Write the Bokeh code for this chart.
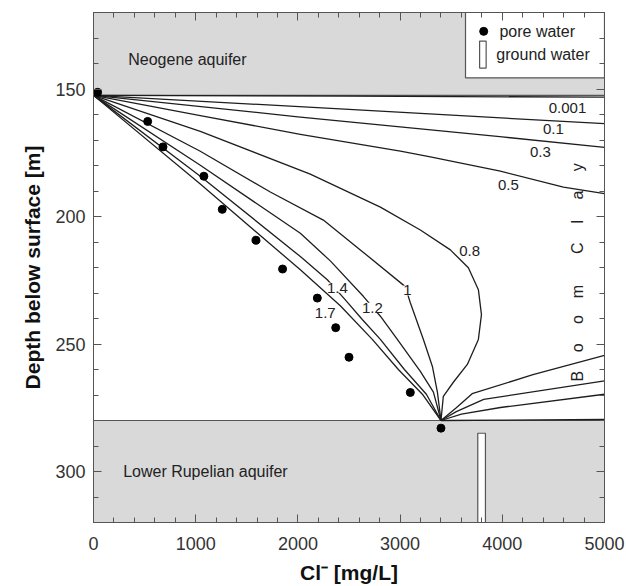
from bokeh.plotting import figure
from bokeh.models import Range1d, LinearAxis, SingleIntervalTicker
from bokeh.core.properties import value
from bokeh.embed import file_html
from bokeh.resources import INLINE

# ---------------- data ----------------
neogene_base = 152.5
rupelian_top = 280.0
depth_top, depth_bottom = 120, 320
cl_min, cl_max = 0, 5000

pore_cl = [40, 530, 680, 1080, 1260, 1590, 1850, 2190, 2370, 2500, 3100, 3400]
pore_depth = [151.3, 162.7, 172.7, 184.2, 197.2, 209.3, 220.6, 232.0, 243.6, 255.2, 269.0, 283.0]

ground_cl = [3760, 3835]
ground_depth = [285, 320]

# model curves (time labels); "top" branch from upper aquifer, "bot" branch from lower aquifer
c0001_top_cl = [0, 2500, 5000]
c0001_top_d = [152.5, 152.8, 153.2]
c0001_bot_cl = [3400, 5000]
c0001_bot_d = [280.0, 279.6]

c01_top_cl = [0, 2500, 5000]
c01_top_d = [152.5, 158.0, 163.6]
c01_bot_cl = [3400, 3600, 3982, 5000]
c01_bot_d = [280.0, 277.5, 274.9, 269.7]

c03_top_cl = [0, 2000, 4000, 5000]
c03_top_d = [152.5, 160.9, 168.8, 172.9]
c03_bot_cl = [3400, 3550, 3818, 5000]
c03_bot_d = [280.0, 276.5, 271.7, 264.5]

c05_top_cl = [0, 1045, 2024, 3003, 3296, 3981, 4598, 5000]
c05_top_d = [152.5, 160.4, 167.8, 174.4, 176.6, 182.2, 188.5, 191.0]
c05_bot_cl = [3400, 3550, 3705, 4300, 5000]
c05_bot_d = [280.0, 275.0, 269.5, 262.0, 254.5]

c08_cl = [0, 1045, 2121, 2807, 3198, 3492, 3668, 3766, 3796, 3766, 3658, 3521, 3423, 3400]
c08_d = [152.5, 166.6, 183.4, 196.3, 205.3, 213.1, 220.1, 228.7, 238.5, 248.2, 258.0, 265.0, 270.5, 280.0]

c10_cl = [0, 1045, 1730, 2249, 2611, 3051, 3100, 3228, 3316, 3365, 3400]
c10_d = [152.5, 174.4, 190.4, 201.4, 213.1, 227.5, 233.8, 248.2, 258.8, 268.9, 280.0]

c12_cl = [0, 1045, 2024, 2317, 2640, 2807, 2973, 3198, 3326, 3400]
c12_d = [152.5, 179.9, 206.6, 217.4, 231.3, 239.1, 248.2, 260.7, 268.9, 280.0]

c14_cl = [0, 1045, 2024, 2288, 2462, 2630, 2807, 3042, 3257, 3400]
c14_d = [152.5, 184.2, 215.7, 224.8, 232.6, 240.4, 248.2, 260.0, 269.7, 280.0]

c17_cl = [0, 1045, 2024, 2415, 2728, 2983, 3218, 3400]
c17_d = [152.5, 187.3, 220.9, 235.0, 248.2, 260.0, 269.7, 280.0]

curve_labels = ["0.001", "0.1", "0.3", "0.5", "0.8"]
curve_label_cl = [4638, 4500, 4373, 4060, 3680]
curve_label_d = [157.6, 165.8, 174.8, 187.7, 213.7]

gap_labels = ["1", "1.2", "1.4"]
gap_label_cl = [3071, 2728, 2386]
gap_label_d = [229.0, 235.8, 227.9]

side_labels = ["1.7"]
side_label_cl = [2268]
side_label_d = [237.7]

boom_letters = ["B", "o", "o", "m", "C", "l", "a", "y"]
boom_d = [262.6, 251.5, 240.4, 229.4, 212.4, 202.0, 191.6, 180.7]
boom_cl = 4733

# ---------------- figure ----------------
FONT = value("Liberation Sans")
FRAME = "#555555"
INK = "#1e1e1e"
GRAY = "#d9d9d9"

p = figure(width=626, height=586,
           x_range=Range1d(cl_min, cl_max), y_range=Range1d(depth_bottom, depth_top),
           output_backend="svg", toolbar_location=None,
           min_border_left=93, min_border_right=22, min_border_top=12, min_border_bottom=63)
p.xaxis.ticker = SingleIntervalTicker(interval=1000, num_minor_ticks=5)
p.yaxis.ticker = SingleIntervalTicker(interval=50, num_minor_ticks=5)
p.grid.visible = False
p.outline_line_color = FRAME
p.background_fill_color = "white"
p.border_fill_color = "white"

p.yaxis.axis_label = "Depth below surface [m]"
p.xaxis.axis_label = "Cl⁻ [mg/L]"

for ax in (p.xaxis[0], p.yaxis[0]):
    ax.axis_line_color = FRAME
    ax.major_tick_line_color = FRAME
    ax.minor_tick_line_color = FRAME
    ax.major_tick_in = 8
    ax.major_tick_out = 0
    ax.minor_tick_in = 5
    ax.minor_tick_out = 0
    ax.major_label_text_font = "Liberation Sans"
    ax.major_label_text_font_size = "18px"
    ax.major_label_text_color = "#333333"
    ax.axis_label_text_font = "Liberation Sans"
    ax.axis_label_text_font_style = "bold"
    ax.axis_label_text_font_size = "21px"
    ax.axis_label_text_color = "#111111"
p.yaxis.major_label_standoff = 8
p.xaxis.major_label_standoff = 14
p.yaxis.axis_label_standoff = 8
p.xaxis.axis_label_standoff = 8

for loc in ("above", "right"):
    ax = LinearAxis(ticker=SingleIntervalTicker(interval=1000 if loc == "above" else 50, num_minor_ticks=5))
    ax.axis_line_color = FRAME
    ax.major_tick_line_color = FRAME
    ax.minor_tick_line_color = FRAME
    ax.major_tick_in = 8
    ax.major_tick_out = 0
    ax.minor_tick_in = 5
    ax.minor_tick_out = 0
    ax.major_label_text_font_size = "1px"
    ax.major_label_text_color = None
    ax.major_label_standoff = 0
    p.add_layout(ax, loc)

# aquifers
p.quad(left=[cl_min], right=[cl_max], top=[depth_top], bottom=[neogene_base],
       fill_color=GRAY, line_color=None)
p.quad(left=[cl_min], right=[cl_max], top=[rupelian_top], bottom=[depth_bottom],
       fill_color=GRAY, line_color=None)
p.line([cl_min, cl_max], [neogene_base, neogene_base], line_color=FRAME, line_width=1.2)
p.line([cl_min, cl_max], [rupelian_top, rupelian_top], line_color=FRAME, line_width=1.2)

# curves
for xs, ys in [(c0001_top_cl, c0001_top_d), (c0001_bot_cl, c0001_bot_d),
               (c01_top_cl, c01_top_d), (c01_bot_cl, c01_bot_d),
               (c03_top_cl, c03_top_d), (c03_bot_cl, c03_bot_d),
               (c05_top_cl, c05_top_d), (c05_bot_cl, c05_bot_d),
               (c08_cl, c08_d), (c10_cl, c10_d), (c12_cl, c12_d),
               (c14_cl, c14_d), (c17_cl, c17_d)]:
    p.line(xs, ys, line_color=INK, line_width=1.3, line_join="round")

# pore water
p.scatter(pore_cl, pore_depth, size=8, marker="circle", fill_color="black", line_color="black")

# ground water
p.quad(left=[ground_cl[0]], right=[ground_cl[1]], top=[ground_depth[0]], bottom=[ground_depth[1]],
       fill_color="white", line_color=FRAME, line_width=1.2)

# region labels
p.text(x=[340], y=[138.5], text=["Neogene aquifer"], text_font=FONT, text_font_size="16px",
       text_align="left", text_baseline="middle", text_color="#222222")
p.text(x=[290], y=[300], text=["Lower Rupelian aquifer"], text_font=FONT, text_font_size="16px",
       text_align="left", text_baseline="middle", text_color="#222222")

# curve labels
p.text(x=curve_label_cl, y=curve_label_d, text=curve_labels, text_font=FONT, text_font_size="15px",
       text_align="center", text_baseline="middle", text_color="#222222")
p.text(x=gap_label_cl, y=gap_label_d, text=gap_labels, text_font=FONT, text_font_size="15px",
       text_align="center", text_baseline="middle", text_color="#222222",
       background_fill_color="white")
p.text(x=side_label_cl, y=side_label_d, text=side_labels, text_font=FONT, text_font_size="15px",
       text_align="center", text_baseline="middle", text_color="#222222")

# Boom Clay
p.text(x=[boom_cl] * len(boom_letters), y=boom_d, text=boom_letters, angle=1.5708,
       text_font=FONT, text_font_size="16px", text_align="center", text_baseline="middle",
       text_color="#222222")

# legend box
p.quad(left=[3640], right=[5000], top=[120], bottom=[145.6], fill_color="white",
       line_color=FRAME, line_width=1.2)
p.scatter([3818], [127.4], size=8, marker="circle", fill_color="black", line_color="black")
p.quad(left=[3778], right=[3842], top=[131.2], bottom=[141.8], fill_color="white",
       line_color=FRAME, line_width=1.2)
p.text(x=[3972, 3942], y=[127.4, 136.3], text=["pore water", "ground water"], text_font=FONT,
       text_font_size="16px", text_align="left", text_baseline="middle", text_color="#222222")

open("out.html", "w").write(file_html(p, INLINE))
